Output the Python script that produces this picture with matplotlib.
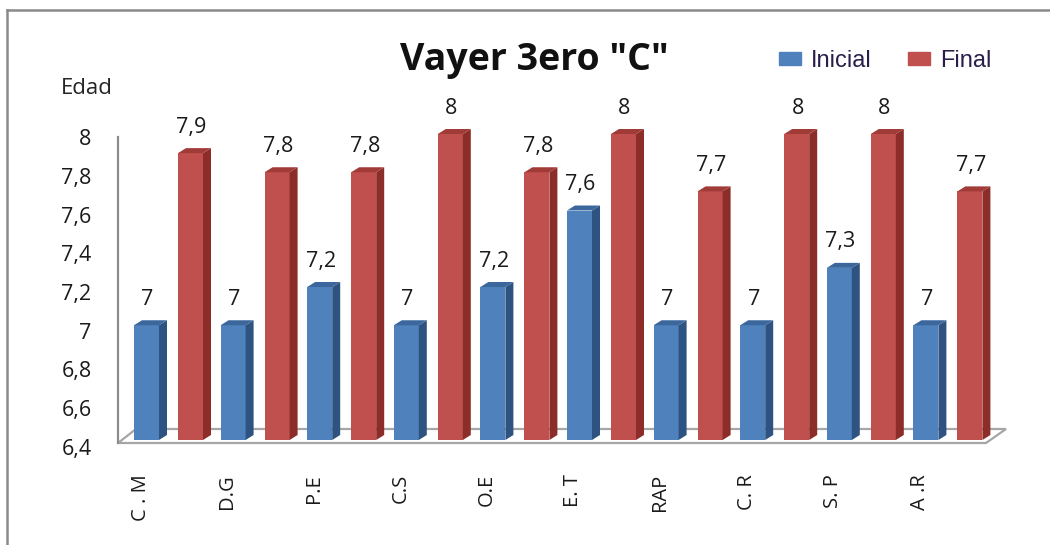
import matplotlib
matplotlib.use("Agg")
import matplotlib.pyplot as plt
from matplotlib.patches import Polygon
from matplotlib.lines import Line2D
import numpy as np

# Data
categories = ["C . M", "D.G", "P.E", "C.S", "O.E", "E. T", "RAP", "C. R", "S. P", "A .R"]
inicial = [7.0, 7.0, 7.2, 7.0, 7.2, 7.6, 7.0, 7.0, 7.3, 7.0]
final = [7.9, 7.8, 7.8, 8.0, 7.8, 8.0, 7.7, 8.0, 8.0, 7.7]
y_ticks = [6.4, 6.6, 6.8, 7.0, 7.2, 7.4, 7.6, 7.8, 8.0]
series_names = ["Inicial", "Final"]

BASE = 6.4
W, H = 1050, 545
fig = plt.figure(figsize=(W / 100, H / 100), dpi=100)
fig.patch.set_facecolor("white")

# plot area in pixels: left 118, right 1006, top 100, bottom 445
px_l, px_r, px_t, px_b = 118, 1006, 100, 445
ax = fig.add_axes([px_l / W, 1 - px_b / H, (px_r - px_l) / W, (px_b - px_t) / H])

grp = 86.6            # pixels per category
ppu = 191.25          # pixels per unit of age
x0 = 146.5            # pixel of first blue bar centre
ax.set_xlim((px_l - x0) / grp, (px_r - x0) / grp)
ax.set_ylim(BASE - (px_b - 440) / ppu, BASE + (440 - px_t) / ppu)

def px_x(p):
    return p / grp

def px_y(p):
    return p / ppu

bw = px_x(25)
dx = px_x(8)
dy = px_y(5)
red_off = px_x(44)

# floor
fl_front = BASE - px_y(3)
fl_back = BASE + px_y(11)
floor = Polygon([(ax.get_xlim()[0], fl_front), (px_x(986 - x0), fl_front),
                 (px_x(1006 - x0), fl_back), (px_x(136 - x0), fl_back)],
                closed=True, facecolor="white", edgecolor="#a6a6a6", lw=1.6, zorder=1,
                clip_on=False)
ax.add_patch(floor)

# vertical wall edge
ax.plot([ax.get_xlim()[0]] * 2, [fl_front, 7.985], color="#8c8c8c", lw=1.6,
        zorder=1, clip_on=False)

colors = {
    "Inicial": ("#4F81BD", "#2F5381", "#3B679C"),
    "Final": ("#C0504D", "#8C2D2A", "#A13B38"),
}

idx = np.arange(len(categories))
for name, vals, off in [("Inicial", inicial, 0.0), ("Final", final, red_off)]:
    front, side, top = colors[name]
    xs = idx + off
    bars = ax.bar(xs, np.array(vals) - BASE, bottom=BASE, width=bw, color=front,
                  edgecolor="none", zorder=3, label=name)
    for b, v in zip(bars, vals):
        xl = b.get_x()
        xr = xl + b.get_width()
        ax.add_patch(Polygon([(xr, BASE), (xr + dx, BASE + dy), (xr + dx, v + dy), (xr, v)],
                             closed=True, facecolor=side, edgecolor="none", zorder=3))
        ax.add_patch(Polygon([(xl, v), (xl + dx, v + dy), (xr + dx, v + dy), (xr, v)],
                             closed=True, facecolor=top, edgecolor="none", zorder=3))
        lab = f"{v:g}".replace(".", ",")
        ax.text(xl + b.get_width() / 2 + px_x(1), v + px_y(26), lab, ha="center",
                va="center", fontsize=15.5, family="Open Sans", color="#1a1a1a", zorder=4)

for s in ax.spines.values():
    s.set_visible(False)
ax.set_facecolor("none")
ax.set_yticks([])
ax.set_xticks(idx - px_x(6))
ax.set_xticklabels(categories, rotation=90, family="Open Sans", fontsize=14.5,
                   color="#1a1a1a", va="top", ha="center")
ax.tick_params(axis="x", length=0, pad=21)

# value scale on the back wall: 8 at 137 px, 6,4 at 447 px
wall = fig.add_axes([px_l / W, 1 - 447 / H, 0.001, (447 - 137) / H])
wall.set_ylim(y_ticks[0], y_ticks[-1])
wall.set_xticks([])
wall.set_yticks(y_ticks)
wall.set_yticklabels([f"{t:g}".replace(".", ",") for t in y_ticks], family="Open Sans",
                     fontsize=15.5, color="#1a1a1a")
wall.tick_params(axis="y", length=0, pad=19)
for s in wall.spines.values():
    s.set_visible(False)
wall.patch.set_visible(False)

# axis caption
fig.text(61 / W, 1 - 88 / H, "Edad", ha="left", va="center", fontsize=16,
         family="Open Sans", color="#262626")

# title
fig.text(534 / W, 1 - 60 / H, 'Vayer 3ero "C"', ha="center", va="center", fontsize=27,
         family="Open Sans", fontweight="bold", color="#111111")

# legend
leg = ax.legend(handles=[plt.Rectangle((0, 0), 1, 1, color=colors[n][0]) for n in series_names],
                labels=series_names, loc="center", ncol=2, frameon=False,
                bbox_to_anchor=(885 / W, 1 - 61 / H), bbox_transform=fig.transFigure,
                prop={"family": "Liberation Sans", "size": 17}, handlelength=0.95,
                handleheight=0.45, handletextpad=0.4, columnspacing=1.55)
for t in leg.get_texts():
    t.set_color("#2a1f4a")

# chart frame
fig.add_artist(Line2D([7 / W, 7 / W], [0, 1 - 10 / H], transform=fig.transFigure,
                      color="#8a8a8a", lw=1.8))
fig.add_artist(Line2D([7 / W, 1], [1 - 10 / H, 1 - 10 / H], transform=fig.transFigure,
                      color="#8a8a8a", lw=1.8))

fig.savefig("out.png", dpi=100)
